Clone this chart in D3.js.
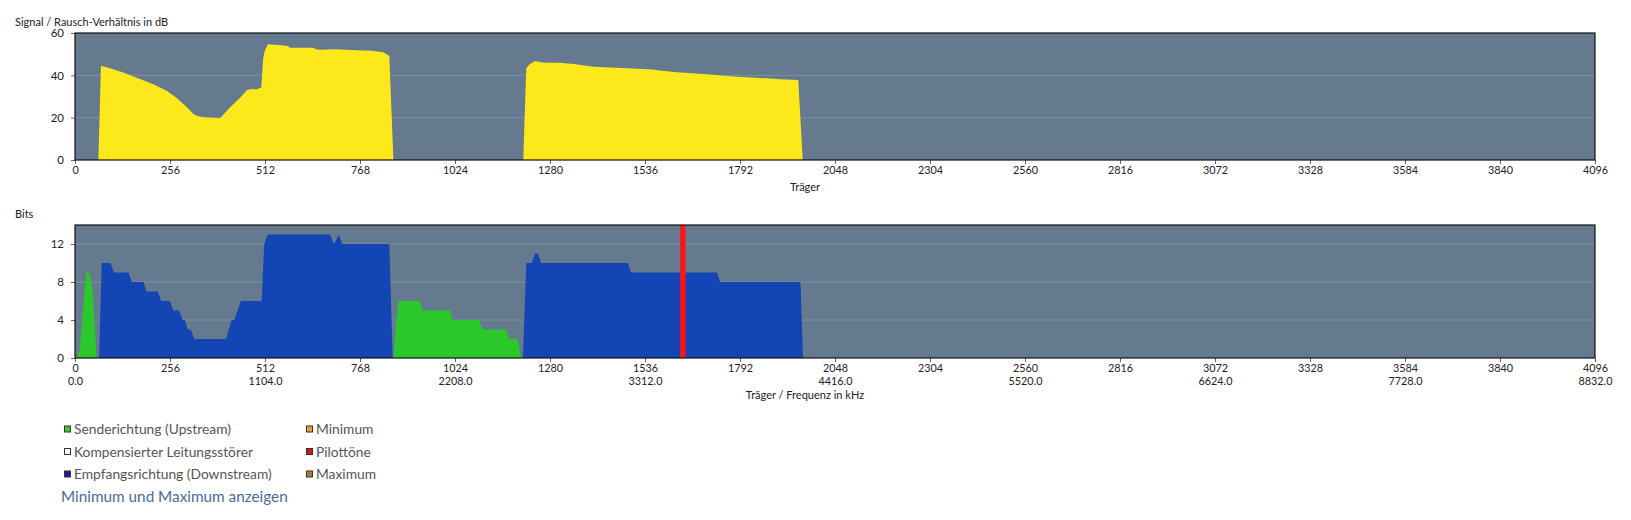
<!DOCTYPE html>
<html>
<head>
<meta charset="utf-8">
<script src="https://cdn.jsdelivr.net/npm/d3@7/dist/d3.min.js"></script>
<style>
  html, body { margin: 0; padding: 0; background: #fff; }
  svg { display: block; }
</style>
</head>
<body>
<svg id="chart" width="1631" height="520"></svg>
<script>
// ---------- DATA ----------
const xTickValues = [0,256,512,768,1024,1280,1536,1792,2048,2304,2560,2816,3072,3328,3584,3840,4096];
const freqTickValues = [0,512,1024,1536,2048,2560,3072,3584,4096];
const freqTickLabels = ["0.0","1104.0","2208.0","3312.0","4416.0","5520.0","6624.0","7728.0","8832.0"];
const snrTicks = [0,20,40,60];
const bitsTicks = [0,4,8,12];

const snrCarriers1 = [63,70,94,130,175,211,247,274,301,319,330,346,370,391,418,445,463,475,490,502,507,512,520,571,580,642,650,660,700,760,800,831,847,858];
const snrDb1      = [0,44.5,43.3,41.3,38.3,35.8,32.7,29.3,25,21.7,20.8,20.2,20,19.7,24.9,29.4,33,33.6,33.4,34.3,48,52,54.7,54,53,53,52.3,52.1,52.3,51.8,51.6,50.9,49.1,0];
const snrCarriers2 = [1208,1216,1225,1240,1255,1271,1307,1350,1396,1460,1500,1558,1580,1622,1693,1774,1864,1900,1949,1961];
const snrDb2      = [0,43.3,45.2,46.8,46.2,46,46,45.2,44.1,43.6,43.2,42.8,42.2,41.4,40.6,39.4,38.6,38.2,37.8,0];

const usCarriers1 = [6,13,30,39,48,58];
const usBits1     = [0,1,9,9,7,0];
const usCarriers2 = [858,871,930,937,1011,1017,1090,1098,1163,1170,1193,1202];
const usBits2     = [0,6,6,5,5,4,4,3,3,2,2,0];

const dsCarriers1 = [65,72,96,105,144,153,184,193,223,232,256,265,280,290,296,304,312,321,407,422,429,447,503,510,519,687,698,711,720,847,856];
const dsBits1     = [0,10,10,9,9,8,8,7,7,6,6,5,5,4,4,3,3,2,2,4,4,6,6,12,13,13,12,13,12,12,0];
const dsCarriers2 = [1207,1216,1231,1240,1247,1256,1490,1498,1730,1738,1955,1962];
const dsBits2     = [0,10,10,11,11,10,10,9,9,8,8,0];

const pilotCarriers = [1638];

const legendLeft  = [["Senderichtung (Upstream)","#33cc33"],["Kompensierter Leitungsstörer","#ffffff"],["Empfangsrichtung (Downstream)","#1a1a9e"]];
const legendRight = [["Minimum","#e8a030"],["Pilottöne","#cc1a1a"],["Maximum","#b07a3e"]];

// ---------- STYLE ----------
const FONT = "Lato, 'Noto Sans', sans-serif";
const BG = "#657a8e", GRID = "#7c90a3";
const svg = d3.select("#chart");
const left = 75, right = 1595;

const x = d3.scaleLinear().domain([0,4096]).range([left,right]);

function zip(a,b){ return a.map((c,i)=>[c,b[i]]); }

function panel(top, bottom, yDomain, yTicks) {
  const y = d3.scaleLinear().domain(yDomain).range([bottom, top]);
  const g = svg.append("g");
  g.append("rect").attr("x",left).attr("y",top).attr("width",right-left).attr("height",bottom-top).attr("fill",BG);
  g.selectAll("line.grid").data(yTicks.filter(t=>t>0 && t<yDomain[1])).join("line")
    .attr("x1",left).attr("x2",right).attr("y1",d=>y(d)).attr("y2",d=>y(d))
    .attr("stroke",GRID).attr("stroke-width",1);
  return {g,y};
}

function drawAxes(g, y, top, bottom, yTicks, withFreq) {
  const ya = g.append("g").attr("transform",`translate(${left},0)`)
    .call(d3.axisLeft(y).tickValues(yTicks).tickSize(4).tickPadding(7).tickFormat(d3.format("d")));
  ya.select(".domain").remove();
  ya.selectAll("line").attr("stroke","#666");
  ya.selectAll("text").attr("font-family",FONT).attr("font-size",11.5).attr("fill","#222");
  const xa = g.append("g").attr("transform",`translate(0,${bottom})`)
    .call(d3.axisBottom(x).tickValues(xTickValues).tickSize(4).tickPadding(2).tickFormat(d3.format("d")));
  xa.select(".domain").remove();
  xa.selectAll("line").attr("stroke","#666");
  xa.selectAll("text").attr("font-family",FONT).attr("font-size",10.8).attr("fill","#222");
  if (withFreq) {
    const fa = g.append("g").attr("transform",`translate(0,${bottom+13})`)
      .call(d3.axisBottom(x).tickValues(freqTickValues).tickSize(0).tickPadding(6)
        .tickFormat((d,i)=>freqTickLabels[i]));
    fa.select(".domain").remove();
    fa.selectAll("text").attr("font-family",FONT).attr("font-size",10.8).attr("fill","#222");
  }
  g.append("rect").attr("x",left).attr("y",top).attr("width",right-left).attr("height",bottom-top)
    .attr("fill","none").attr("stroke","#111").attr("stroke-width",1.2);
}

// ---------- TOP PANEL ----------
const T = panel(33,160,[0,60],snrTicks);
const areaT = d3.area().x(d=>x(d[0])).y0(T.y(0)).y1(d=>T.y(d[1]));
[zip(snrCarriers1,snrDb1), zip(snrCarriers2,snrDb2)].forEach(s=>{
  T.g.append("path").attr("d",areaT(s)).attr("fill","#fde91b");
});
drawAxes(T.g, T.y, 33, 160, snrTicks, false);
svg.append("text").attr("x",15).attr("y",26).text("Signal / Rausch-Verhältnis in dB")
  .attr("font-family",FONT).attr("font-size",11).attr("fill","#222");
svg.append("text").attr("x",805).attr("y",191).attr("text-anchor","middle").text("Träger")
  .attr("font-family",FONT).attr("font-size",11).attr("fill","#222");

// ---------- BOTTOM PANEL ----------
const B = panel(225,358,[0,14],bitsTicks);
const areaB = d3.area().x(d=>x(d[0])).y0(B.y(0)).y1(d=>B.y(d[1]));
[zip(usCarriers1,usBits1), zip(usCarriers2,usBits2)].forEach(s=>{
  B.g.append("path").attr("d",areaB(s)).attr("fill","#2ac82a");
});
[zip(dsCarriers1,dsBits1), zip(dsCarriers2,dsBits2)].forEach(s=>{
  B.g.append("path").attr("d",areaB(s)).attr("fill","#1346b4");
});
B.g.selectAll("rect.pilot").data(pilotCarriers).join("rect")
  .attr("x",d=>x(d)-2.7).attr("width",5.4).attr("y",225).attr("height",133).attr("fill","#ff1414");
drawAxes(B.g, B.y, 225, 358, bitsTicks, true);
svg.append("text").attr("x",15).attr("y",218).text("Bits")
  .attr("font-family",FONT).attr("font-size",11).attr("fill","#222");
svg.append("text").attr("x",805).attr("y",399).attr("text-anchor","middle").text("Träger / Frequenz in kHz")
  .attr("font-family",FONT).attr("font-size",11).attr("fill","#222");

// ---------- LEGEND ----------
function legendCol(items, sx, tx) {
  items.forEach((it,i)=>{
    const cy = 429 + i*22.5;
    svg.append("rect").attr("x",sx).attr("y",cy-3).attr("width",6).attr("height",6)
      .attr("fill",it[1]).attr("stroke","#333").attr("stroke-width",1);
    svg.append("text").attr("x",tx).attr("y",cy+5).text(it[0])
      .attr("font-family",FONT).attr("font-size",13.8).attr("fill","#555");
  });
}
legendCol(legendLeft, 64.5, 74);
legendCol(legendRight, 306.5, 316);
svg.append("text").attr("x",61).attr("y",502).text("Minimum und Maximum anzeigen")
  .attr("font-family",FONT).attr("font-size",15.3).attr("fill","#4a6a9e");
</script>
</body>
</html>
